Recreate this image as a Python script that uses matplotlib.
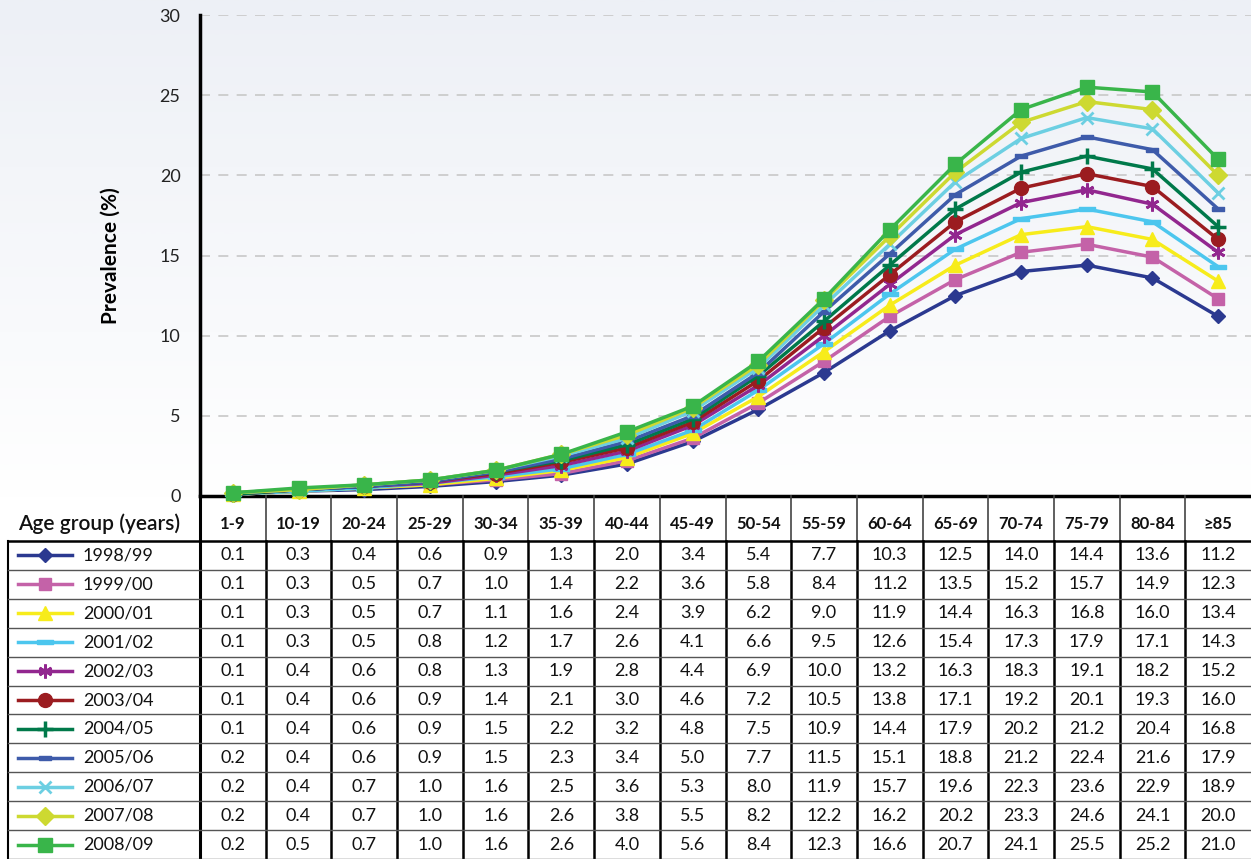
import numpy as np
import matplotlib
matplotlib.use("Agg")
import matplotlib.pyplot as plt
from matplotlib.colors import LinearSegmentedColormap

plt.rcParams['font.family'] = ['Lato', 'DejaVu Sans']

age_groups = ["1-9", "10-19", "20-24", "25-29", "30-34", "35-39", "40-44", "45-49",
              "50-54", "55-59", "60-64", "65-69", "70-74", "75-79", "80-84", "\u226585"]
years = ["1998/99", "1999/00", "2000/01", "2001/02", "2002/03", "2003/04",
         "2004/05", "2005/06", "2006/07", "2007/08", "2008/09"]

v1998 = [0.1, 0.3, 0.4, 0.6, 0.9, 1.3, 2.0, 3.4, 5.4, 7.7, 10.3, 12.5, 14.0, 14.4, 13.6, 11.2]
v1999 = [0.1, 0.3, 0.5, 0.7, 1.0, 1.4, 2.2, 3.6, 5.8, 8.4, 11.2, 13.5, 15.2, 15.7, 14.9, 12.3]
v2000 = [0.1, 0.3, 0.5, 0.7, 1.1, 1.6, 2.4, 3.9, 6.2, 9.0, 11.9, 14.4, 16.3, 16.8, 16.0, 13.4]
v2001 = [0.1, 0.3, 0.5, 0.8, 1.2, 1.7, 2.6, 4.1, 6.6, 9.5, 12.6, 15.4, 17.3, 17.9, 17.1, 14.3]
v2002 = [0.1, 0.4, 0.6, 0.8, 1.3, 1.9, 2.8, 4.4, 6.9, 10.0, 13.2, 16.3, 18.3, 19.1, 18.2, 15.2]
v2003 = [0.1, 0.4, 0.6, 0.9, 1.4, 2.1, 3.0, 4.6, 7.2, 10.5, 13.8, 17.1, 19.2, 20.1, 19.3, 16.0]
v2004 = [0.1, 0.4, 0.6, 0.9, 1.5, 2.2, 3.2, 4.8, 7.5, 10.9, 14.4, 17.9, 20.2, 21.2, 20.4, 16.8]
v2005 = [0.2, 0.4, 0.6, 0.9, 1.5, 2.3, 3.4, 5.0, 7.7, 11.5, 15.1, 18.8, 21.2, 22.4, 21.6, 17.9]
v2006 = [0.2, 0.4, 0.7, 1.0, 1.6, 2.5, 3.6, 5.3, 8.0, 11.9, 15.7, 19.6, 22.3, 23.6, 22.9, 18.9]
v2007 = [0.2, 0.4, 0.7, 1.0, 1.6, 2.6, 3.8, 5.5, 8.2, 12.2, 16.2, 20.2, 23.3, 24.6, 24.1, 20.0]
v2008 = [0.2, 0.5, 0.7, 1.0, 1.6, 2.6, 4.0, 5.6, 8.4, 12.3, 16.6, 20.7, 24.1, 25.5, 25.2, 21.0]
series = [v1998, v1999, v2000, v2001, v2002, v2003, v2004, v2005, v2006, v2007, v2008]

dash_big = [(-1, -0.3), (1, -0.3), (1, 0.3), (-1, 0.3), (-1, -0.3)]
styles = [
    dict(color="#2B3990", marker="D", ms=7),
    dict(color="#C462A8", marker="s", ms=9),
    dict(color="#F7EC1B", marker="^", ms=10),
    dict(color="#4CC6EE", marker=dash_big, ms=11),
    dict(color="#92278F", marker=(6, 2, 0), ms=10, mew=2),
    dict(color="#9B1C20", marker="o", ms=10),
    dict(color="#00794A", marker="+", ms=12, mew=2.5),
    dict(color="#3E5BAA", marker=dash_big, ms=8),
    dict(color="#6CCFE2", marker="x", ms=9, mew=2),
    dict(color="#CDD931", marker="D", ms=9),
    dict(color="#39B54A", marker="s", ms=10),
]

W, H = 1251, 859
fig = plt.figure(figsize=(W / 100, H / 100), dpi=100)
fig.patch.set_facecolor("white")

# background gradient
bg = fig.add_axes([0, 0, 1, 1], zorder=-10)
grad = np.linspace(0, 1, 300).reshape(-1, 1)
cmap = LinearSegmentedColormap.from_list("g", ["#EDF0F6", "#FFFFFF"])
bg.imshow(grad, aspect="auto", cmap=cmap, extent=[0, W, 500, 0])
bg.set_xlim(0, W)
bg.set_ylim(H, 0)
bg.axis("off")

x_left, x_right = 200, 1251
y_top, y_zero = 15, 496
ax = fig.add_axes([x_left / W, (H - y_zero) / H, (x_right - x_left) / W, (y_zero - y_top) / H])
ax.patch.set_alpha(0)
x = np.arange(len(age_groups))
for vals, st in zip(series, styles):
    st = dict(st)
    c = st.pop("color")
    ax.plot(x, vals, color=c, lw=2.5, mfc=c, mec=c, clip_on=False, zorder=3, **st)
ax.set_xlim(-0.5, len(age_groups) - 0.5)
ax.set_ylim(0, 30)
ax.set_yticks(np.arange(0, 31, 5))
ax.tick_params(axis="y", length=0, labelsize=13, pad=14, labelcolor="#222222")
ax.set_xticks([])
for yv in range(5, 31, 5):
    ax.axhline(yv, color="#C8C8C8", lw=1.2, ls=(0, (6, 5)), zorder=1)
for s in ["top", "right"]:
    ax.spines[s].set_visible(False)
ax.spines["left"].set_linewidth(2.5)
ax.spines["bottom"].set_linewidth(2.5)
ax.set_ylabel("Prevalence (%)", fontsize=15, fontweight="bold", labelpad=28)

# data table (pixel coordinates overlay)
tb = fig.add_axes([0, 0, 1, 1], zorder=5)
tb.set_xlim(0, W)
tb.set_ylim(H, 0)
tb.axis("off")
ncol = len(age_groups)
colw = (x_right - x_left) / ncol
hdr_bot = 541
rowh = (H - hdr_bot) / len(years)
# header
tb.text(18, 524, "Age group (years)", fontsize=15, fontweight="semibold",
        ha="left", va="center", color="#111111")
for i, lab in enumerate(age_groups):
    tb.text(x_left + (i + 0.5) * colw, 524, lab, fontsize=12, fontweight="bold",
            ha="center", va="center", color="#111111")
for i in range(1, ncol):
    xe = x_left + i * colw
    tb.plot([xe, xe], [y_zero, hdr_bot], color="#444444", lw=1.2)
    tb.plot([xe, xe], [hdr_bot, H], color="black", lw=1.8)
tb.plot([x_left, x_left], [y_zero, H], color="black", lw=2.2)
tb.plot([8, 8], [hdr_bot, H], color="black", lw=1.5)
tb.plot([8, W], [hdr_bot, hdr_bot], color="black", lw=1.8)
for r in range(1, len(years) + 1):
    yl = hdr_bot + r * rowh
    tb.plot([8, W], [yl, yl], color="#555555", lw=1.0)
# rows
for r, (yr, vals, st) in enumerate(zip(years, series, styles)):
    yc = hdr_bot + (r + 0.5) * rowh
    st = dict(st)
    c = st.pop("color")
    tb.plot([18, 72], [yc, yc], color=c, lw=2.5)
    tb.plot([45], [yc], color=c, mfc=c, mec=c, ls="none", **st)
    tb.text(83, yc, yr, fontsize=13, ha="left", va="center", color="#111111")
    for i, v in enumerate(vals):
        tb.text(x_left + (i + 0.5) * colw, yc, f"{v:.1f}", fontsize=13,
                ha="center", va="center", color="#111111")

fig.savefig("out.png", dpi=100)
